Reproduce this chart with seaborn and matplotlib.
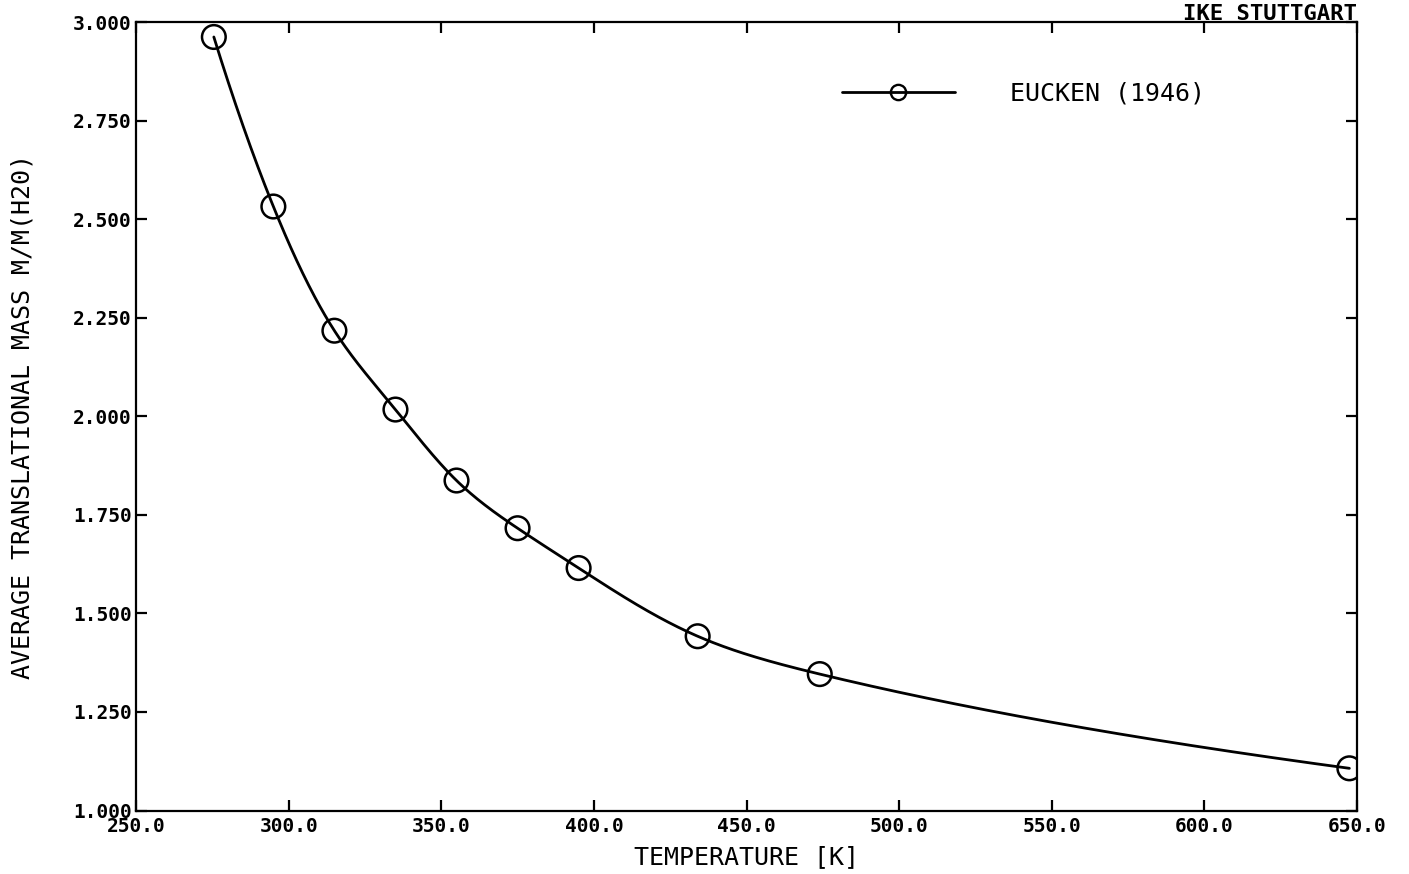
import numpy as np
import matplotlib
matplotlib.use("Agg")
import matplotlib.pyplot as plt
import seaborn as sns
from matplotlib.lines import Line2D
from matplotlib.ticker import FormatStrFormatter

# Eucken (1946): average translational mass of water vapour vs. temperature
temperature = [275.5, 295.0, 315.0, 335.0, 355.0, 375.0, 395.0, 434.0, 474.0, 647.5]
mass_ratio = [2.962, 2.532, 2.217, 2.017, 1.837, 1.716, 1.615, 1.442, 1.346, 1.107]

x_ticks = [250, 300, 350, 400, 450, 500, 550, 600, 650]
y_ticks = [1.0, 1.25, 1.5, 1.75, 2.0, 2.25, 2.5, 2.75, 3.0]


def natural_spline(x, y, xs):
    """Natural cubic spline through (x, y), evaluated at xs."""
    x = np.asarray(x, float)
    y = np.asarray(y, float)
    k = len(x)
    h = np.diff(x)
    A = np.zeros((k, k))
    b = np.zeros(k)
    A[0, 0] = A[-1, -1] = 1.0
    for i in range(1, k - 1):
        A[i, i - 1] = h[i - 1]
        A[i, i] = 2 * (h[i - 1] + h[i])
        A[i, i + 1] = h[i]
        b[i] = 6 * ((y[i + 1] - y[i]) / h[i] - (y[i] - y[i - 1]) / h[i - 1])
    m = np.linalg.solve(A, b)
    idx = np.clip(np.searchsorted(x, xs) - 1, 0, k - 2)
    x0, x1 = x[idx], x[idx + 1]
    hh = x1 - x0
    t0, t1 = x1 - xs, xs - x0
    return (m[idx] * t0 ** 3 / (6 * hh) + m[idx + 1] * t1 ** 3 / (6 * hh)
            + (y[idx] / hh - m[idx] * hh / 6) * t0
            + (y[idx + 1] / hh - m[idx + 1] * hh / 6) * t1)


# smooth curve through the measured points (spline in log-log space)
lx = np.log(temperature)
ly = np.log(mass_ratio)
grid = np.linspace(lx[0], lx[-1], 800)
curve_t = np.exp(grid)
curve_m = np.exp(natural_spline(lx, ly, grid))

sns.set_style("ticks")
plt.rcParams["font.family"] = ["DejaVu Sans Mono", "DejaVu Sans"]
plt.rcParams["text.color"] = "black"
plt.rcParams["axes.labelcolor"] = "black"

fig = plt.figure(figsize=(14.09, 8.74), dpi=100)
ax = fig.add_axes([136 / 1409, 1 - 810.5 / 874, (1357 - 136) / 1409, (810.5 - 22) / 874])

sns.lineplot(x=curve_t, y=curve_m, ax=ax, color="black", linewidth=2.0, sort=False)
sns.scatterplot(x=temperature, y=mass_ratio, ax=ax, marker="o", s=290,
                facecolor="none", edgecolor="black", linewidth=1.8, zorder=3)

ax.set_xlim(250, 650)
ax.set_ylim(1.0, 3.0)
ax.set_xticks(x_ticks)
ax.set_yticks(y_ticks)
ax.xaxis.set_major_formatter(FormatStrFormatter("%.1f"))
ax.yaxis.set_major_formatter(FormatStrFormatter("%.3f"))
ax.tick_params(direction="in", length=8, width=1.6, top=True, right=True,
               labelsize=14, colors="black")
ax.tick_params(axis="x", pad=5)
ax.tick_params(axis="y", pad=3)
for lab in ax.get_xticklabels() + ax.get_yticklabels():
    lab.set_fontweight("bold")
for s in ax.spines.values():
    s.set_linewidth(1.6)
    s.set_color("black")

ax.set_xlabel("TEMPERATURE [K]", fontsize=18, labelpad=6, color="black")
ax.set_ylabel("AVERAGE TRANSLATIONAL MASS M/M(H20)", fontsize=18, labelpad=28,
              color="black")

handle = Line2D([], [], color="black", linewidth=2.0, marker="o", markersize=11,
                markerfacecolor="none", markeredgewidth=1.7)
fig.legend([handle], ["EUCKEN (1946)"], loc="center left",
           bbox_to_anchor=(842 / 1409, 1 - 94 / 874), frameon=False,
           fontsize=18, handlelength=4.5, handletextpad=2.2, borderpad=0,
           borderaxespad=0, labelcolor="black")

fig.text(1357 / 1409, 1 - 14 / 874, "IKE STUTTGART", ha="right", va="center",
         fontsize=16, fontweight="bold", color="black")

fig.savefig("out.png", dpi=100, facecolor="white")
